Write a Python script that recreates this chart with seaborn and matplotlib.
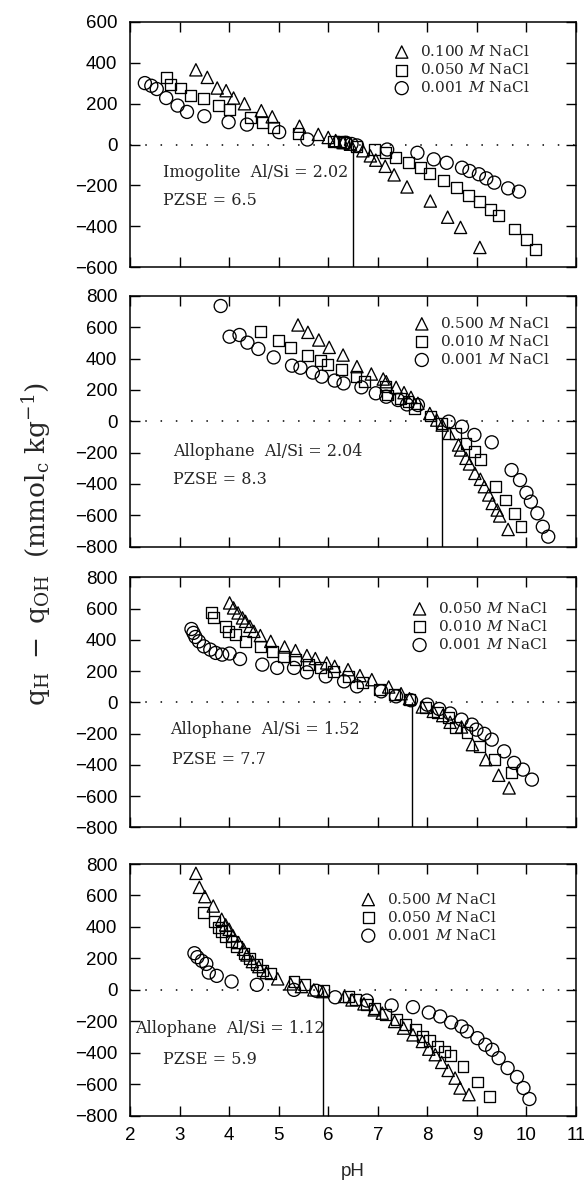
import numpy as np
import pandas as pd
import matplotlib
matplotlib.use("Agg")
import matplotlib.pyplot as plt
import seaborn as sns

# ---------------- data ----------------
# Panel 1: Imogolite Al/Si = 2.02
p1_labels = ["0.100 $\\mathit{M}$ NaCl", "0.050 $\\mathit{M}$ NaCl", "0.001 $\\mathit{M}$ NaCl"]
p1_tri_ph = [3.33, 3.56, 3.76, 3.94, 4.09, 4.31, 4.65, 4.87, 5.42, 5.80, 6.00, 6.15, 6.30, 6.45,
             6.70, 6.85, 6.96, 7.15, 7.33, 7.59, 8.06, 8.41, 8.67, 9.06]
p1_tri_q = [366, 329, 277, 264, 228, 200, 166, 136, 90, 50, 35, 20, 10, 2,
            -30, -55, -76, -106, -148, -207, -276, -355, -405, -503]
p1_sq_ph = [2.73, 2.81, 3.01, 3.22, 3.48, 3.79, 4.01, 4.44, 4.67, 4.90, 5.39, 6.11, 6.22, 6.30,
            6.58, 6.93, 7.15, 7.35, 7.62, 7.86, 8.04, 8.33, 8.59, 8.83, 9.06, 9.28, 9.44, 9.76,
            10.00, 10.19]
p1_sq_q = [330, 293, 277, 241, 225, 191, 171, 131, 106, 82, 54, 17, 14, 10,
           -7, -24, -40, -64, -89, -113, -141, -175, -210, -251, -279, -316, -348, -413,
           -462, -514]
p1_ci_ph = [2.30, 2.43, 2.54, 2.73, 2.96, 3.15, 3.50, 3.99, 4.36, 5.01, 5.58, 6.36, 6.47, 6.58,
            7.19, 7.80, 8.13, 8.39, 8.70, 8.85, 9.04, 9.19, 9.35, 9.63, 9.85]
p1_ci_q = [301, 288, 272, 228, 191, 160, 139, 110, 98, 61, 25, 9, 3, -4,
           -24, -40, -72, -89, -113, -129, -145, -165, -186, -214, -230]

# Panel 2: Allophane Al/Si = 2.04
p2_labels = ["0.500 $\\mathit{M}$ NaCl", "0.010 $\\mathit{M}$ NaCl", "0.001 $\\mathit{M}$ NaCl"]
p2_tri_ph = [5.39, 5.59, 5.81, 6.02, 6.30, 6.58, 6.87, 7.11, 7.17, 7.37, 7.53, 7.67, 7.81, 8.05,
             8.19, 8.30, 8.44, 8.63, 8.67, 8.78, 8.85, 8.96, 9.07, 9.15, 9.24, 9.31, 9.41, 9.46, 9.63]
p2_tri_q = [615, 568, 519, 472, 423, 349, 302, 270, 253, 217, 183, 153, 115, 50,
            8, -24, -77, -151, -183, -236, -272, -332, -370, -417, -470, -524, -566, -604, -690]
p2_sq_ph = [4.63, 5.00, 5.24, 5.59, 5.84, 5.99, 6.26, 6.56, 6.74, 7.15, 7.19, 7.46, 7.61, 7.74,
            8.07, 8.28, 8.56, 8.78, 8.96, 9.07, 9.37, 9.58, 9.76, 9.89]
p2_sq_q = [572, 513, 472, 423, 391, 360, 332, 285, 253, 221, 168, 147, 125, 83,
           34, -13, -77, -141, -194, -243, -417, -502, -587, -673]
p2_ci_ph = [3.83, 4.01, 4.21, 4.37, 4.59, 4.90, 5.27, 5.44, 5.69, 5.87, 6.13, 6.31, 6.67, 6.96,
            7.17, 7.41, 7.59, 7.81, 8.43, 8.70, 8.95, 9.30, 9.70, 9.87, 10.00, 10.09, 10.22,
            10.33, 10.44]
p2_ci_q = [736, 540, 551, 502, 462, 408, 355, 342, 311, 285, 260, 242, 217, 179,
           157, 136, 108, 104, -2, -34, -87, -134, -311, -375, -456, -513, -587,
           -673, -736]

# Panel 3: Allophane Al/Si = 1.52
p3_labels = ["0.050 $\\mathit{M}$ NaCl", "0.010 $\\mathit{M}$ NaCl", "0.001 $\\mathit{M}$ NaCl"]
p3_tri_ph = [4.01, 4.09, 4.18, 4.27, 4.33, 4.42, 4.50, 4.63, 4.84, 5.12, 5.34, 5.57, 5.74, 5.97,
             6.13, 6.40, 6.64, 6.88, 7.22, 7.47, 7.64, 7.90, 8.12, 8.31, 8.46, 8.69, 8.91, 9.18,
             9.44, 9.65]
p3_tri_q = [636, 604, 572, 540, 518, 486, 454, 427, 390, 354, 331, 299, 280, 252,
            230, 209, 171, 145, 98, 55, 23, -30, -58, -85, -128, -158, -271, -367,
            -467, -548]
p3_sq_ph = [3.64, 3.68, 3.92, 3.99, 4.13, 4.33, 4.63, 4.87, 5.10, 5.34, 5.61, 5.85, 6.10, 6.40,
            6.70, 7.03, 7.34, 7.64, 7.96, 8.20, 8.42, 8.57, 8.80, 9.06, 9.36, 9.70]
p3_sq_q = [576, 544, 486, 454, 433, 390, 358, 326, 294, 273, 241, 220, 198, 166,
           124, 81, 49, 17, -36, -68, -100, -164, -196, -281, -367, -452]
p3_ci_ph = [3.24, 3.28, 3.32, 3.39, 3.49, 3.62, 3.73, 3.86, 4.01, 4.22, 4.67, 4.97, 5.31, 5.57,
            5.95, 6.32, 6.58, 7.07, 7.37, 7.67, 8.00, 8.24, 8.46, 8.69, 8.90, 8.99, 9.15, 9.30,
            9.55, 9.75, 9.93, 10.11]
p3_ci_q = [469, 444, 418, 390, 358, 337, 316, 305, 312, 277, 241, 220, 220, 192,
           166, 134, 102, 70, 38, 13, -15, -43, -72, -111, -143, -175, -202, -239,
           -314, -388, -431, -495]

# Panel 4: Allophane Al/Si = 1.12
p4_labels = ["0.500 $\\mathit{M}$ NaCl", "0.050 $\\mathit{M}$ NaCl", "0.001 $\\mathit{M}$ NaCl"]
p4_tri_ph = [3.33, 3.40, 3.51, 3.68, 3.85, 3.93, 4.00, 4.08, 4.19, 4.29, 4.36, 4.47, 4.60, 4.75,
             4.98, 5.24, 5.46, 5.71, 5.89, 6.33, 6.48, 6.72, 6.93, 7.09, 7.34, 7.52, 7.71, 7.90,
             8.03, 8.16, 8.29, 8.42, 8.56, 8.66, 8.84]
p4_tri_q = [741, 652, 593, 533, 449, 413, 385, 343, 301, 258, 222, 180, 148, 110,
            70, 38, 21, 0, -11, -42, -64, -89, -127, -148, -201, -243, -286, -328,
            -377, -412, -461, -512, -561, -624, -666]
p4_sq_ph = [3.48, 3.70, 3.78, 3.85, 3.93, 4.04, 4.15, 4.30, 4.41, 4.56, 4.68, 4.83, 5.31, 5.52,
            5.91, 6.40, 6.55, 6.78, 6.93, 7.15, 7.37, 7.56, 7.76, 7.90, 8.05, 8.21, 8.35, 8.46,
            8.72, 9.01, 9.26]
p4_sq_q = [491, 434, 398, 370, 339, 307, 275, 233, 201, 159, 123, 102, 53, 32,
           -6, -42, -64, -95, -116, -159, -190, -222, -254, -296, -321, -360, -391, -419,
           -487, -586, -677]
p4_ci_ph = [3.30, 3.36, 3.45, 3.54, 3.59, 3.75, 4.05, 4.56, 5.31, 5.76, 6.14, 6.78, 7.28, 7.71,
            8.03, 8.26, 8.48, 8.69, 8.80, 9.01, 9.17, 9.31, 9.44, 9.62, 9.81, 9.94, 10.06]
p4_ci_q = [233, 208, 184, 165, 110, 89, 53, 32, 0, -6, -47, -68, -99, -110,
           -144, -169, -207, -233, -264, -307, -349, -381, -434, -497, -554, -624, -694]

panel_text = ["Imogolite  Al/Si = 2.02", "Allophane  Al/Si = 2.04",
              "Allophane  Al/Si = 1.52", "Allophane  Al/Si = 1.12"]
pzse_values = [6.5, 8.3, 7.7, 5.9]
pzse_text = ["PZSE = 6.5", "PZSE = 8.3", "PZSE = 7.7", "PZSE = 5.9"]
x_ticks = [2, 3, 4, 5, 6, 7, 8, 9, 10, 11]
y_ticks_p1 = [-600, -400, -200, 0, 200, 400, 600]
y_ticks_other = [-800, -600, -400, -200, 0, 200, 400, 600, 800]

# ---------------- styling ----------------
sns.set_theme(style="ticks")
plt.rcParams["font.family"] = ["Liberation Sans", "DejaVu Sans"]
plt.rcParams["mathtext.fontset"] = "dejavuserif"
plt.rcParams["xtick.direction"] = "in"
plt.rcParams["ytick.direction"] = "in"

fig = plt.figure(figsize=(5.84, 11.82), dpi=100)
left, width = 0.2226, 0.7637
boxes = [(0.7739, 0.2075), (0.5375, 0.2121), (0.3001, 0.2115), (0.0561, 0.2129)]

panels = [
    (p1_labels, (p1_tri_ph, p1_tri_q), (p1_sq_ph, p1_sq_q), (p1_ci_ph, p1_ci_q)),
    (p2_labels, (p2_tri_ph, p2_tri_q), (p2_sq_ph, p2_sq_q), (p2_ci_ph, p2_ci_q)),
    (p3_labels, (p3_tri_ph, p3_tri_q), (p3_sq_ph, p3_sq_q), (p3_ci_ph, p3_ci_q)),
    (p4_labels, (p4_tri_ph, p4_tri_q), (p4_sq_ph, p4_sq_q), (p4_ci_ph, p4_ci_q)),
]
markers = ["^", "s", "o"]
msizes = [78, 62, 88]
legend_anchor = [(0.575, 0.935), (0.62, 0.945), (0.615, 0.93), (0.50, 0.915)]
text_pos = [((2.67, -134), (2.67, -275)), ((2.87, -194), (2.87, -370)),
            ((2.81, -175), (2.84, -363)), ((2.11, -243), (2.67, -444))]

serif = ["DejaVu Serif"]

for i, (labels, *series) in enumerate(panels):
    b, h = boxes[i]
    ax = fig.add_axes([left, b, width, h])
    for (ph, q), mk, ms, lab in zip(series, markers, msizes, labels):
        df = pd.DataFrame({"pH": ph, "q": q})
        sns.scatterplot(data=df, x="pH", y="q", marker=mk, s=ms, facecolor="none",
                        edgecolor="black", linewidth=0.95, label=lab, ax=ax, zorder=3)
    ymax = 600 if i == 0 else 800
    ax.set_xlim(2, 11)
    ax.set_ylim(-ymax, ymax)
    ax.set_xticks(x_ticks)
    yt = y_ticks_p1 if i == 0 else y_ticks_other
    ax.set_yticks(yt)
    ax.set_yticklabels([f"{v}".replace("-", "\u2212") for v in yt])
    ax.axhline(0, color="black", lw=1.1, ls=(0, (1, 9)), zorder=1)
    ax.vlines(pzse_values[i], -ymax, 0, color="black", lw=1.0, zorder=2)
    ax.tick_params(axis="both", which="major", direction="in", length=7, width=1.0,
                   top=True, right=True, labelsize=13.5, colors="black")
    ax.tick_params(axis="y", pad=9)
    ax.tick_params(axis="x", pad=8)
    if i < 3:
        ax.tick_params(axis="x", labelbottom=False)
        ax.set_xlabel("")
    else:
        ax.set_xlabel("pH", fontsize=13.5, labelpad=14)
    ax.set_ylabel("")
    for sp in ax.spines.values():
        sp.set_linewidth(1.1)
        sp.set_color("black")
    (tx1, ty1), (tx2, ty2) = text_pos[i]
    ax.text(tx1, ty1, panel_text[i], fontsize=11.5, family=serif, va="center", ha="left")
    ax.text(tx2, ty2, pzse_text[i], fontsize=11.5, family=serif, va="center", ha="left")
    ax.legend(loc="upper left", bbox_to_anchor=legend_anchor[i], frameon=False,
              prop={"family": serif, "size": 11}, labelspacing=0.2,
              handletextpad=0.6, borderaxespad=0, handlelength=1.2)

fig.text(0.062, 0.54, r"$\mathrm{q_H\ -\ q_{OH}\ \ (mmol_c\ kg^{-1})}$",
         rotation=90, fontsize=19, ha="center", va="center")

fig.savefig("out.png", dpi=100)
